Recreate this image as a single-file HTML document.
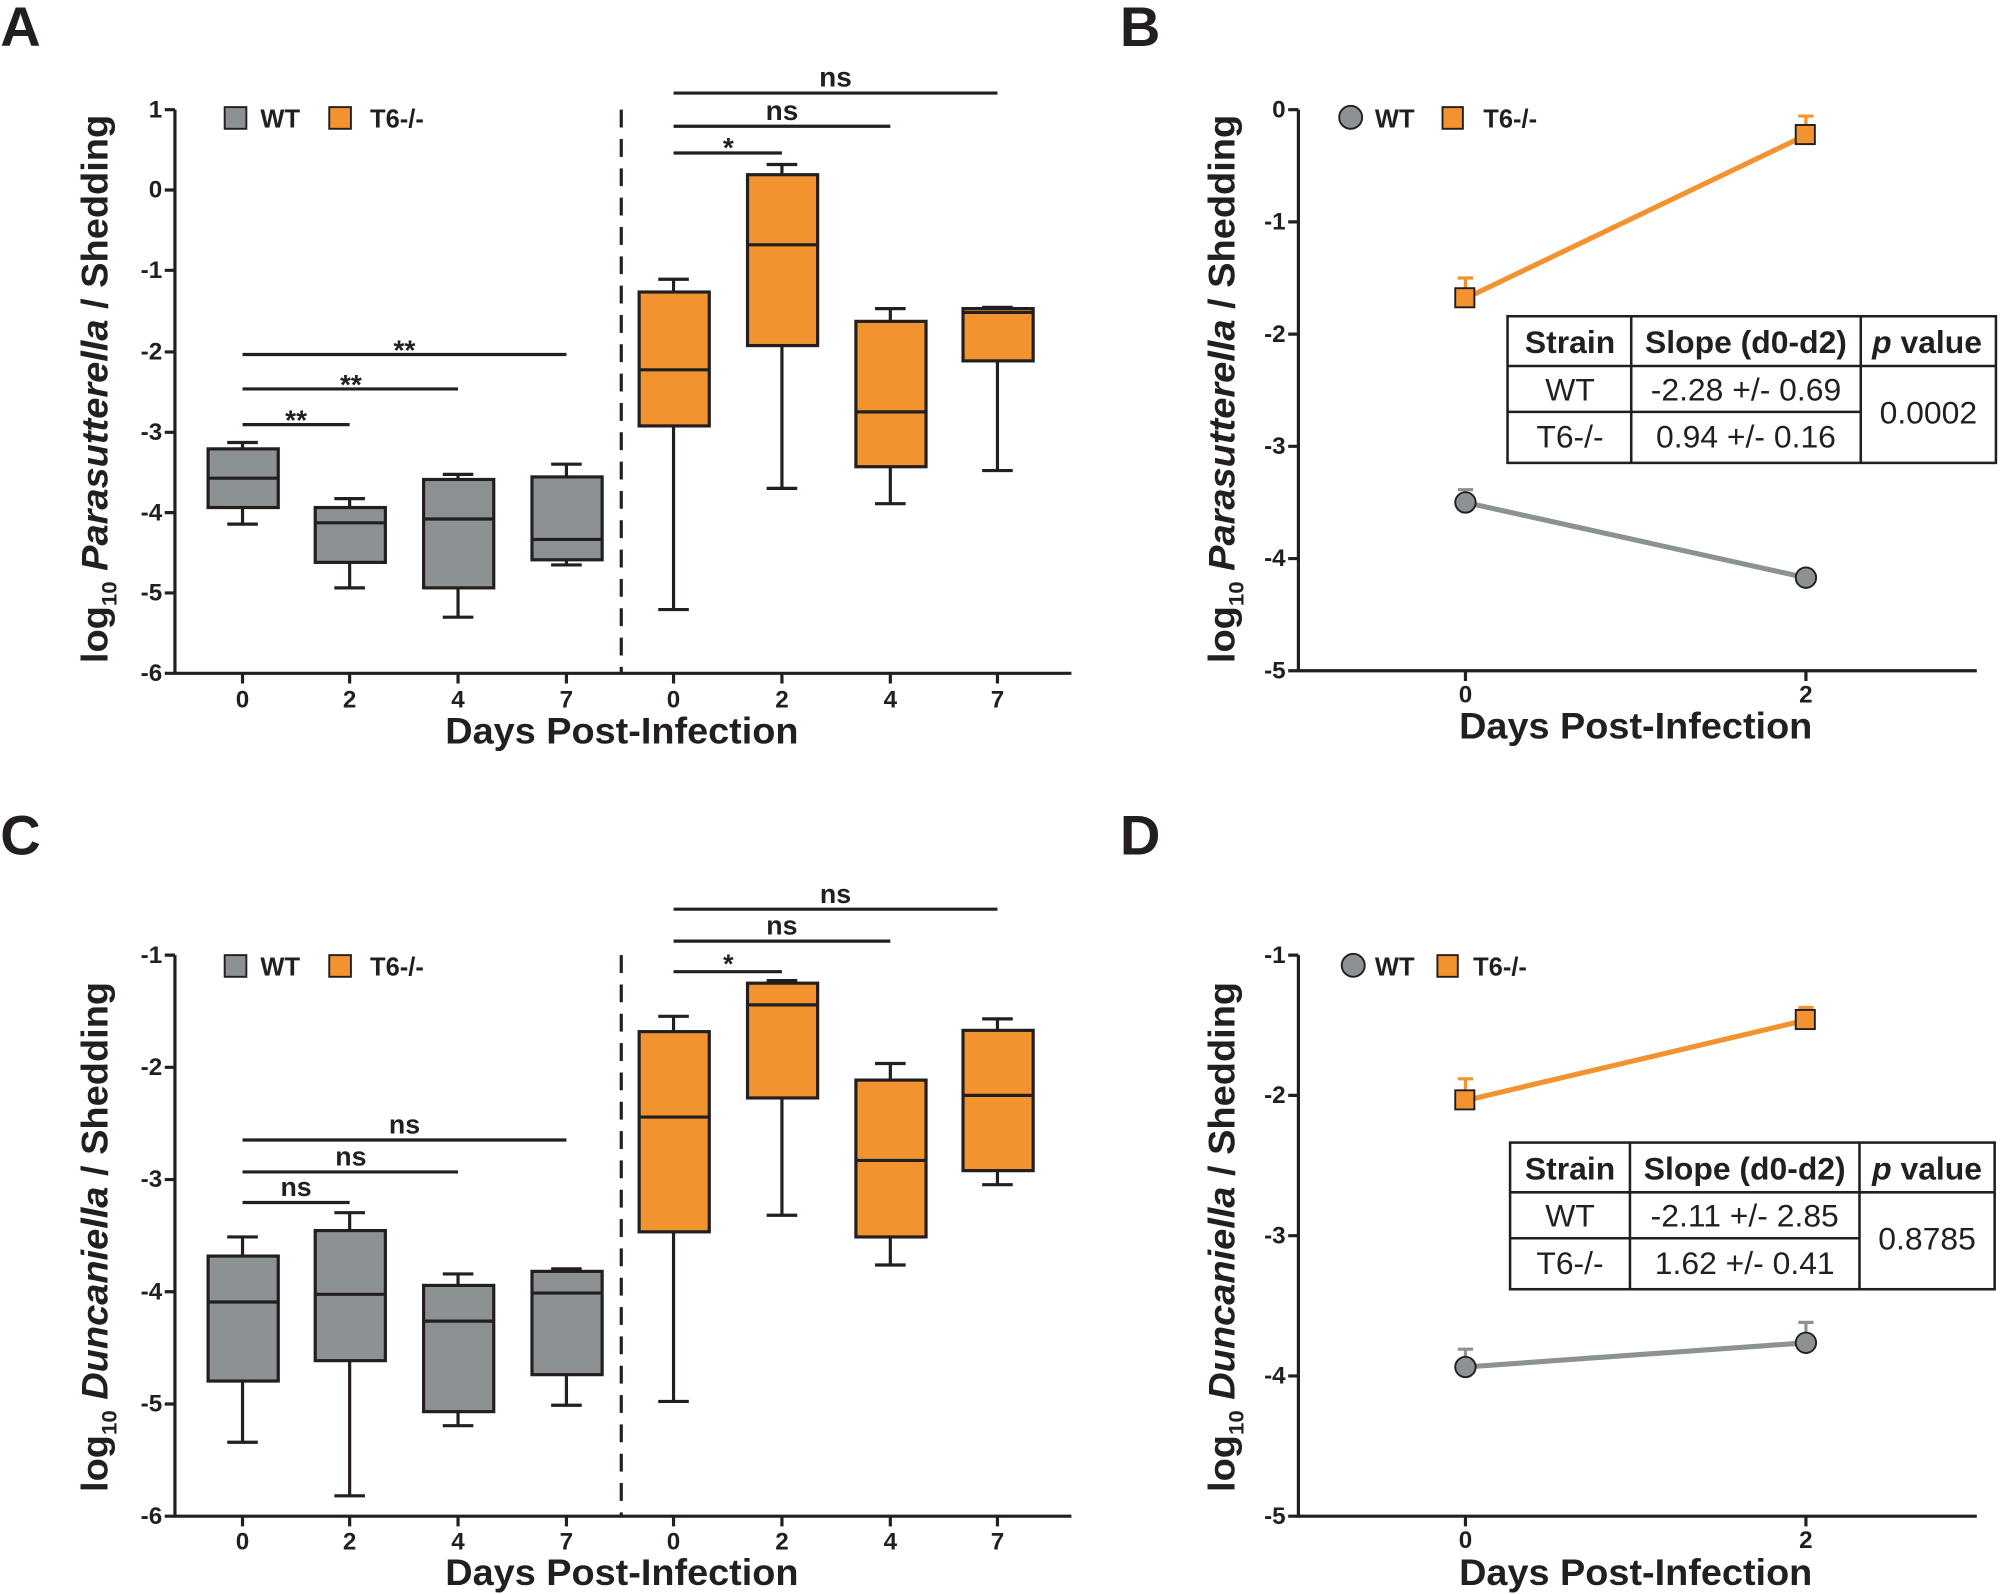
<!DOCTYPE html>
<html><head><meta charset="utf-8"><style>
html,body{margin:0;padding:0;background:#fff;}
svg{display:block;font-family:"Liberation Sans",Arial,sans-serif;font-weight:bold;}
</style></head><body>
<svg width="2000" height="1594" viewBox="0 0 1568 1250" xmlns="http://www.w3.org/2000/svg">
<g fill="#231f20">
<text x="0" y="36" font-size="44">A</text>
<text x="878" y="36" font-size="44">B</text>
<text x="0" y="670" font-size="44">C</text>
<text x="878" y="670" font-size="44">D</text>
</g>

<!-- Panel A -->
<g stroke="#231f20" stroke-width="2.5" fill="none">
<path d="M137 86 V528 H840"/>
<path d="M129 86H137M129 149H137M129 212H137M129 276H137M129 339H137M129 402H137M129 465H137M129 528H137"/>
<path d="M190 528v8M274 528v8M359 528v8M444 528v8M528 528v8M613 528v8M698 528v8M782 528v8"/>
<path d="M487 86V528" stroke-dasharray="14,9"/>
</g>
<g font-size="19" fill="#231f20" text-anchor="end">
<text x="127" y="92">1</text><text x="127" y="155">0</text><text x="127" y="218">-1</text><text x="127" y="282">-2</text><text x="127" y="345">-3</text><text x="127" y="408">-4</text><text x="127" y="471">-5</text><text x="127" y="534">-6</text>
</g>
<g font-size="19" fill="#231f20" text-anchor="middle">
<text x="190" y="555">0</text><text x="274" y="555">2</text><text x="359" y="555">4</text><text x="444" y="555">7</text><text x="528" y="555">0</text><text x="613" y="555">2</text><text x="698" y="555">4</text><text x="782" y="555">7</text>
</g>
<text x="349" y="583" font-size="29" textLength="277" lengthAdjust="spacingAndGlyphs" fill="#231f20">Days Post-Infection</text>
<text transform="translate(84,520) rotate(-90)" font-size="29" textLength="430" lengthAdjust="spacingAndGlyphs" fill="#231f20">log<tspan font-size="17" dy="7">10</tspan><tspan dy="-7" font-style="italic"> Parasutterella</tspan> / Shedding</text>
<rect x="176" y="84" width="17" height="17" fill="#8c9194" stroke="#231f20" stroke-width="1.5"/>
<text x="204" y="100" font-size="20" fill="#231f20">WT</text>
<rect x="258" y="84" width="17" height="17" fill="#f2932f" stroke="#231f20" stroke-width="1.5"/>
<text x="290" y="100" font-size="20" fill="#231f20">T6-/-</text>
<g stroke="#231f20" stroke-width="2.5">
<path d="M190 347V352M190 398V411M178 347H202M178 411H202"/>
<rect x="163" y="352" width="55" height="46" fill="#8c9194"/><path d="M163 375H218"/>
<path d="M274 391V398M274 441V461M262 391H286M262 461H286"/>
<rect x="247" y="398" width="55" height="43" fill="#8c9194"/><path d="M247 410H302"/>
<path d="M359 372V376M359 461V484M347 372H371M347 484H371"/>
<rect x="332" y="376" width="55" height="85" fill="#8c9194"/><path d="M332 407H387"/>
<path d="M444 364V374M444 439V443M432 364H456M432 443H456"/>
<rect x="417" y="374" width="55" height="65" fill="#8c9194"/><path d="M417 423H472"/>
<path d="M528 219V229M528 334V478M516 219H540M516 478H540"/>
<rect x="501" y="229" width="55" height="105" fill="#f2932f"/><path d="M501 290H556"/>
<path d="M613 129V137M613 271V383M601 129H625M601 383H625"/>
<rect x="586" y="137" width="55" height="134" fill="#f2932f"/><path d="M586 192H641"/>
<path d="M698 242V252M698 366V395M686 242H710M686 395H710"/>
<rect x="671" y="252" width="55" height="114" fill="#f2932f"/><path d="M671 323H726"/>
<path d="M782 241V242M782 283V369M770 241H794M770 369H794"/>
<rect x="755" y="242" width="55" height="41" fill="#f2932f"/><path d="M755 245H810"/>
<path d="M190 333H274M190 305H359M190 278H444M528 120H613M528 99H698M528 73H782"/>
</g>
<g font-size="22" fill="#231f20" text-anchor="middle">
<text x="232" y="337">**</text><text x="275" y="309">**</text><text x="317" y="282">**</text>
<text x="571" y="123">*</text><text x="613" y="94">ns</text><text x="655" y="68">ns</text>
</g>

<!-- Panel C -->
<g stroke="#231f20" stroke-width="2.5" fill="none">
<path d="M137 749 V1189 H840"/>
<path d="M129 749H137M129 837H137M129 925H137M129 1013H137M129 1101H137M129 1189H137"/>
<path d="M190 1189v8M274 1189v8M359 1189v8M444 1189v8M528 1189v8M613 1189v8M698 1189v8M782 1189v8"/>
<path d="M487 749V1189" stroke-dasharray="14,9"/>
</g>
<g font-size="19" fill="#231f20" text-anchor="end">
<text x="127" y="755">-1</text><text x="127" y="843">-2</text><text x="127" y="931">-3</text><text x="127" y="1019">-4</text><text x="127" y="1107">-5</text><text x="127" y="1195">-6</text>
</g>
<g font-size="19" fill="#231f20" text-anchor="middle">
<text x="190" y="1215">0</text><text x="274" y="1215">2</text><text x="359" y="1215">4</text><text x="444" y="1215">7</text><text x="528" y="1215">0</text><text x="613" y="1215">2</text><text x="698" y="1215">4</text><text x="782" y="1215">7</text>
</g>
<text x="349" y="1243" font-size="29" textLength="277" lengthAdjust="spacingAndGlyphs" fill="#231f20">Days Post-Infection</text>
<text transform="translate(84,1170) rotate(-90)" font-size="29" textLength="400" lengthAdjust="spacingAndGlyphs" fill="#231f20">log<tspan font-size="17" dy="7">10</tspan><tspan dy="-7" font-style="italic"> Duncaniella</tspan> / Shedding</text>
<rect x="176" y="749" width="17" height="17" fill="#8c9194" stroke="#231f20" stroke-width="1.5"/>
<text x="204" y="765" font-size="20" fill="#231f20">WT</text>
<rect x="258" y="749" width="17" height="17" fill="#f2932f" stroke="#231f20" stroke-width="1.5"/>
<text x="290" y="765" font-size="20" fill="#231f20">T6-/-</text>
<g stroke="#231f20" stroke-width="2.5">
<path d="M190 970V985M190 1083V1131M178 970H202M178 1131H202"/>
<rect x="163" y="985" width="55" height="98" fill="#8c9194"/><path d="M163 1021H218"/>
<path d="M274 951V965M274 1067V1173M262 951H286M262 1173H286"/>
<rect x="247" y="965" width="55" height="102" fill="#8c9194"/><path d="M247 1015H302"/>
<path d="M359 999V1008M359 1107V1118M347 999H371M347 1118H371"/>
<rect x="332" y="1008" width="55" height="99" fill="#8c9194"/><path d="M332 1036H387"/>
<path d="M444 995V997M444 1078V1102M432 995H456M432 1102H456"/>
<rect x="417" y="997" width="55" height="81" fill="#8c9194"/><path d="M417 1014H472"/>
<path d="M528 797V809M528 966V1099M516 797H540M516 1099H540"/>
<rect x="501" y="809" width="55" height="157" fill="#f2932f"/><path d="M501 876H556"/>
<path d="M613 769V771M613 861V953M601 769H625M601 953H625"/>
<rect x="586" y="771" width="55" height="90" fill="#f2932f"/><path d="M586 788H641"/>
<path d="M698 834V847M698 970V992M686 834H710M686 992H710"/>
<rect x="671" y="847" width="55" height="123" fill="#f2932f"/><path d="M671 910H726"/>
<path d="M782 799V808M782 918V929M770 799H794M770 929H794"/>
<rect x="755" y="808" width="55" height="110" fill="#f2932f"/><path d="M755 859H810"/>
<path d="M190 943H274M190 919H359M190 894H444M528 762H613M528 738H698M528 713H782"/>
</g>
<g font-size="21" fill="#231f20" text-anchor="middle">
<text x="232" y="938">ns</text><text x="275" y="914">ns</text><text x="317" y="889">ns</text>
<text x="571" y="763">*</text><text x="613" y="733">ns</text><text x="655" y="708">ns</text>
</g>

<!-- Panel B -->
<g stroke="#231f20" stroke-width="2.5" fill="none">
<path d="M1018 86 V526 H1550"/>
<path d="M1010 86H1018M1010 174H1018M1010 262H1018M1010 350H1018M1010 438H1018M1010 526H1018"/>
<path d="M1149 526v8M1416 526v8"/>
</g>
<g font-size="19" fill="#231f20" text-anchor="end">
<text x="1008" y="92">0</text><text x="1008" y="180">-1</text><text x="1008" y="268">-2</text><text x="1008" y="356">-3</text><text x="1008" y="444">-4</text><text x="1008" y="532">-5</text>
</g>
<g font-size="19" fill="#231f20" text-anchor="middle">
<text x="1149" y="551">0</text><text x="1416" y="551">2</text>
</g>
<text x="1144" y="579" font-size="29" textLength="277" lengthAdjust="spacingAndGlyphs" fill="#231f20">Days Post-Infection</text>
<text transform="translate(968,520) rotate(-90)" font-size="29" textLength="430" lengthAdjust="spacingAndGlyphs" fill="#231f20">log<tspan font-size="17" dy="7">10</tspan><tspan dy="-7" font-style="italic"> Parasutterella</tspan> / Shedding</text>
<circle cx="1059" cy="92" r="9" fill="#8c9194" stroke="#231f20" stroke-width="1.5"/>
<text x="1078" y="100" font-size="20" fill="#231f20">WT</text>
<rect x="1131" y="84" width="16" height="17" fill="#f2932f" stroke="#231f20" stroke-width="1.5"/>
<text x="1163" y="100" font-size="20" fill="#231f20">T6-/-</text>
<path d="M1149 394L1416 453" stroke="#8c9194" stroke-width="4"/>
<path d="M1149 234L1416 106" stroke="#f2932f" stroke-width="4"/>
<path d="M1149 234V218M1143 218H1155M1416 106V91M1410 91H1422" stroke="#f2932f" stroke-width="2.5"/>
<path d="M1149 394V384M1143 384H1155" stroke="#8c9194" stroke-width="2.5"/>
<circle cx="1149" cy="394" r="8" fill="#8c9194" stroke="#231f20" stroke-width="1.5"/>
<circle cx="1416" cy="453" r="8" fill="#8c9194" stroke="#231f20" stroke-width="1.5"/>
<rect x="1141" y="226" width="15" height="15" fill="#f2932f" stroke="#231f20" stroke-width="1.5"/>
<rect x="1408" y="98" width="15" height="15" fill="#f2932f" stroke="#231f20" stroke-width="1.5"/>
<g stroke="#231f20" stroke-width="2" fill="#fff">
<rect x="1182" y="248" width="383" height="115"/>
<path d="M1279 248V363M1459 248V363M1182 287H1565M1182 323H1459" fill="none"/>
</g>
<g font-size="25" fill="#231f20" text-anchor="middle">
<text x="1231" y="277">Strain</text><text x="1369" y="277">Slope (d0-d2)</text><text x="1511" y="277"><tspan font-style="italic">p</tspan> value</text>
<g font-weight="normal"><text x="1231" y="314">WT</text><text x="1369" y="314">-2.28 +/- 0.69</text><text x="1231" y="351">T6-/-</text><text x="1369" y="351">0.94 +/- 0.16</text><text x="1512" y="332">0.0002</text></g>
</g>

<!-- Panel D -->
<g stroke="#231f20" stroke-width="2.5" fill="none">
<path d="M1018 749 V1189 H1550"/>
<path d="M1010 749H1018M1010 859H1018M1010 969H1018M1010 1079H1018M1010 1189H1018"/>
<path d="M1149 1189v8M1416 1189v8"/>
</g>
<g font-size="19" fill="#231f20" text-anchor="end">
<text x="1008" y="755">-1</text><text x="1008" y="865">-2</text><text x="1008" y="975">-3</text><text x="1008" y="1085">-4</text><text x="1008" y="1195">-5</text>
</g>
<g font-size="19" fill="#231f20" text-anchor="middle">
<text x="1149" y="1214">0</text><text x="1416" y="1214">2</text>
</g>
<text x="1144" y="1243" font-size="29" textLength="277" lengthAdjust="spacingAndGlyphs" fill="#231f20">Days Post-Infection</text>
<text transform="translate(968,1170) rotate(-90)" font-size="29" textLength="400" lengthAdjust="spacingAndGlyphs" fill="#231f20">log<tspan font-size="17" dy="7">10</tspan><tspan dy="-7" font-style="italic"> Duncaniella</tspan> / Shedding</text>
<circle cx="1061" cy="757" r="9" fill="#8c9194" stroke="#231f20" stroke-width="1.5"/>
<text x="1078" y="765" font-size="20" fill="#231f20">WT</text>
<rect x="1127" y="749" width="16" height="17" fill="#f2932f" stroke="#231f20" stroke-width="1.5"/>
<text x="1155" y="765" font-size="20" fill="#231f20">T6-/-</text>
<path d="M1149 1072L1416 1053" stroke="#8c9194" stroke-width="4"/>
<path d="M1149 863L1416 800" stroke="#f2932f" stroke-width="4"/>
<path d="M1149 863V846M1143 846H1155M1416 800V790M1410 790H1422" stroke="#f2932f" stroke-width="2.5"/>
<path d="M1149 1072V1058M1143 1058H1155M1416 1053V1037M1410 1037H1422" stroke="#8c9194" stroke-width="2.5"/>
<circle cx="1149" cy="1072" r="8" fill="#8c9194" stroke="#231f20" stroke-width="1.5"/>
<circle cx="1416" cy="1053" r="8" fill="#8c9194" stroke="#231f20" stroke-width="1.5"/>
<rect x="1141" y="855" width="15" height="15" fill="#f2932f" stroke="#231f20" stroke-width="1.5"/>
<rect x="1408" y="792" width="15" height="15" fill="#f2932f" stroke="#231f20" stroke-width="1.5"/>
<g stroke="#231f20" stroke-width="2" fill="#fff">
<rect x="1184" y="896" width="380" height="115"/>
<path d="M1278 896V1011M1458 896V1011M1184 935H1564M1184 971H1458" fill="none"/>
</g>
<g font-size="25" fill="#231f20" text-anchor="middle">
<text x="1231" y="925">Strain</text><text x="1368" y="925">Slope (d0-d2)</text><text x="1511" y="925"><tspan font-style="italic">p</tspan> value</text>
<g font-weight="normal"><text x="1231" y="962">WT</text><text x="1368" y="962">-2.11 +/- 2.85</text><text x="1231" y="999">T6-/-</text><text x="1368" y="999">1.62 +/- 0.41</text><text x="1511" y="980">0.8785</text></g>
</g>
</svg>
</body></html>
